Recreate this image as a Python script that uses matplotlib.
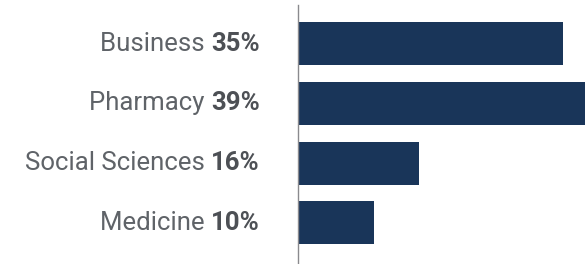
import matplotlib
matplotlib.use("Agg")
import matplotlib.pyplot as plt

categories = ["Business", "Pharmacy", "Social Sciences", "Medicine"]
values = [35, 39, 16, 10]
value_labels = ["35%", "39%", "16%", "10%"]

plt.rcParams['font.family'] = ['Roboto', 'DejaVu Sans']

fig = plt.figure(figsize=(5.85, 2.64), dpi=100)
ax = fig.add_axes([298 / 585, 0, 1 - 298 / 585, (264 - 5) / 264])

y = list(range(len(categories)))
ax.barh(y, values, height=0.72, color="#193559", clip_on=True)
ax.set_xlim(0, 37.9)
ax.set_ylim(3.69, -0.645)

for s in ["top", "right", "bottom"]:
    ax.spines[s].set_visible(False)
ax.spines["left"].set_color("#8a8a8e")
ax.spines["left"].set_linewidth(1.0)
ax.set_xticks([])
ax.set_yticks([])

for i, (cat, lab) in enumerate(zip(categories, value_labels)):
    b = ax.annotate(lab, xy=(0, i), xycoords=("axes fraction", "data"),
                    xytext=(-27.4, 0), textcoords="offset points",
                    ha="right", va="center", fontsize=18.5, fontweight="bold",
                    color="#4d5055", annotation_clip=False)
    ax.annotate(cat + " ", xy=(0, 0), xycoords=b, ha="right", va="bottom",
                fontsize=18.5, color="#5f6368", annotation_clip=False)

fig.savefig("out.png", dpi=100)
